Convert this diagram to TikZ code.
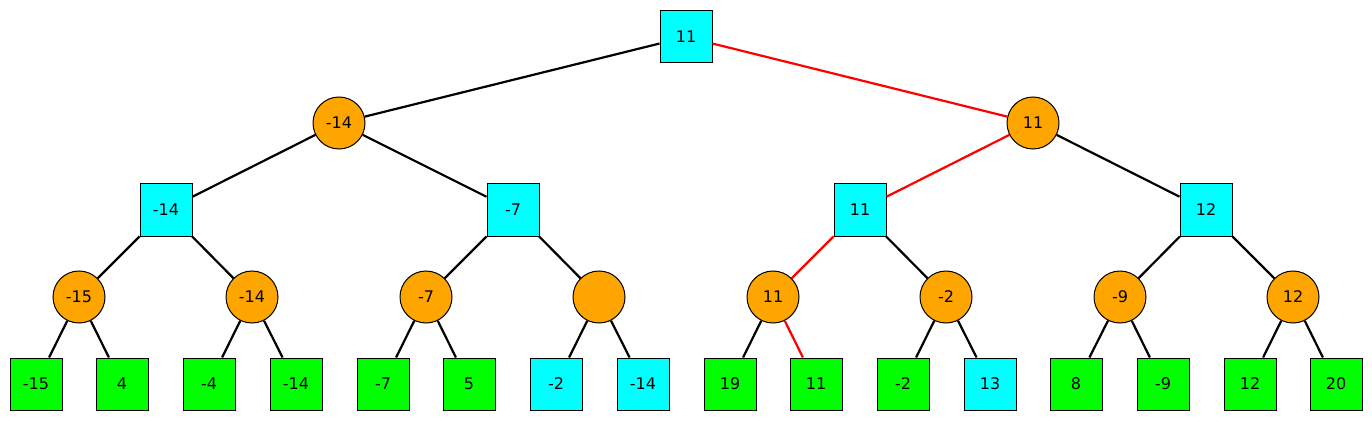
\documentclass[tikz,border=0pt]{standalone}
\usepackage{fontspec}
\setmainfont{DejaVu Sans}
\definecolor{cy}{HTML}{00FFFF}
\definecolor{og}{HTML}{FFA500}
\definecolor{gr}{HTML}{00FF00}
\begin{document}
\begin{tikzpicture}[x=1pt,y=-1pt,
  sq/.style={draw=black,line width=1pt,minimum size=52pt,inner sep=0pt,font=\fontsize{16}{18}\selectfont},
  cq/.style={sq,fill=cy},
  gq/.style={sq,fill=gr},
  oc/.style={draw=black,line width=1pt,circle,fill=og,minimum size=52pt,inner sep=0pt,font=\fontsize{16}{18}\selectfont},
  ed/.style={line width=2.2pt,black},
  re/.style={line width=2.2pt,red}]
\useasboundingbox (0,0) rectangle (1372,422);
% level 0
\node[cq] (r) at (686,37) {11};
% level 1
\node[oc] (a) at (339,123) {-14};
\node[oc] (b) at (1033,123) {11};
% level 2
\node[cq] (a1) at (166,210) {-14};
\node[cq] (a2) at (513,210) {-7};
\node[cq] (b1) at (860,210) {11};
\node[cq] (b2) at (1206,210) {12};
% level 3
\node[oc] (c1) at (79,297) {-15};
\node[oc] (c2) at (252,297) {-14};
\node[oc] (c3) at (426,297) {-7};
\node[oc] (c4) at (599,297) {};
\node[oc] (c5) at (773,297) {11};
\node[oc] (c6) at (946,297) {-2};
\node[oc] (c7) at (1120,297) {-9};
\node[oc] (c8) at (1293,297) {12};
% level 4
\node[gq] (d1) at (36,384) {-15};
\node[gq] (d2) at (122,384) {4};
\node[gq] (d3) at (209,384) {-4};
\node[gq] (d4) at (296,384) {-14};
\node[gq] (d5) at (383,384) {-7};
\node[gq] (d6) at (469,384) {5};
\node[cq] (d7) at (556,384) {-2};
\node[cq] (d8) at (643,384) {-14};
\node[gq] (d9) at (730,384) {19};
\node[gq] (d10) at (816,384) {11};
\node[gq] (d11) at (903,384) {-2};
\node[cq] (d12) at (990,384) {13};
\node[gq] (d13) at (1076,384) {8};
\node[gq] (d14) at (1163,384) {-9};
\node[gq] (d15) at (1250,384) {12};
\node[gq] (d16) at (1336,384) {20};
% edges
\draw[ed] (r) -- (a);
\draw[re] (r) -- (b);
\draw[ed] (a) -- (a1);
\draw[ed] (a) -- (a2);
\draw[re] (b) -- (b1);
\draw[ed] (b) -- (b2);
\draw[ed] (a1) -- (c1);
\draw[ed] (a1) -- (c2);
\draw[ed] (a2) -- (c3);
\draw[ed] (a2) -- (c4);
\draw[re] (b1) -- (c5);
\draw[ed] (b1) -- (c6);
\draw[ed] (b2) -- (c7);
\draw[ed] (b2) -- (c8);
\draw[ed] (c1) -- (d1);
\draw[ed] (c1) -- (d2);
\draw[ed] (c2) -- (d3);
\draw[ed] (c2) -- (d4);
\draw[ed] (c3) -- (d5);
\draw[ed] (c3) -- (d6);
\draw[ed] (c4) -- (d7);
\draw[ed] (c4) -- (d8);
\draw[ed] (c5) -- (d9);
\draw[re] (c5) -- (d10);
\draw[ed] (c6) -- (d11);
\draw[ed] (c6) -- (d12);
\draw[ed] (c7) -- (d13);
\draw[ed] (c7) -- (d14);
\draw[ed] (c8) -- (d15);
\draw[ed] (c8) -- (d16);
\end{tikzpicture}
\end{document}
